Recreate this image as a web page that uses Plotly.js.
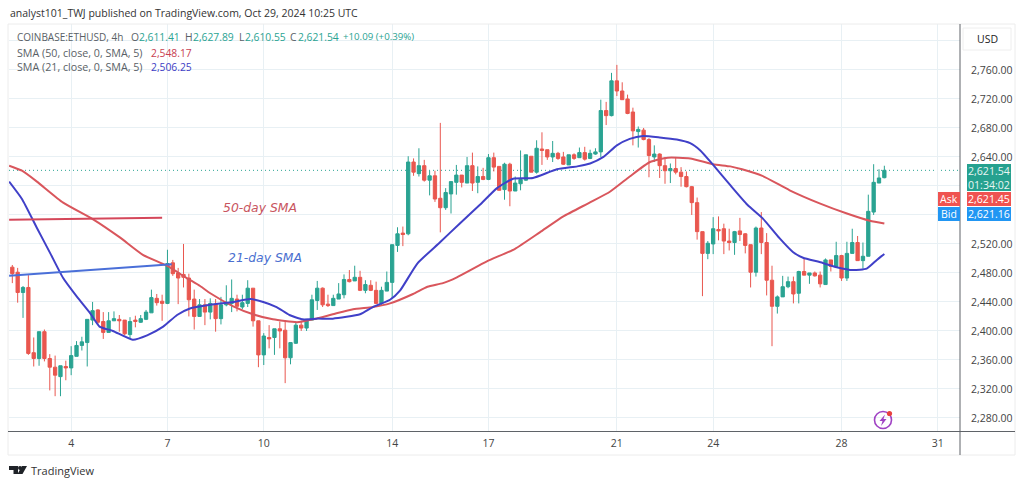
<!DOCTYPE html>
<html>
<head>
<meta charset="utf-8">
<script src="https://cdn.plot.ly/plotly-3.0.1.min.js"></script>
<style>html,body{margin:0;padding:0;background:#fff;overflow:hidden}#c{width:1024px;height:487px}</style>
</head>
<body>
<div id="c"></div>
<script>
const opens=[2488,2481,2453,2460,2370,2362,2399,2362,2350,2337,2351,2349,2365,2380,2384,2415,2429,2413,2398,2414,2416,2415,2395,2415,2412,2416,2425,2445,2441,2438,2494,2480,2478,2473,2444,2420,2436,2426,2437,2417,2436,2438,2444,2433,2438,2459,2414,2367,2391,2391,2403,2401,2363,2383,2408,2404,2415,2442,2459,2437,2435,2444,2450,2471,2469,2474,2456,2463,2456,2438,2455,2467,2518,2535,2534,2633,2617,2628,2608,2614,2583,2570,2589,2605,2615,2604,2628,2605,2613,2609,2639,2627,2595,2630,2593,2603,2608,2641,2619,2651,2650,2640,2645,2640,2629,2643,2639,2646,2638,2644,2647,2704,2697,2745,2731,2720,2702,2675,2677,2664,2640,2644,2628,2621,2624,2619,2613,2599,2577,2537,2507,2520,2540,2541,2524,2522,2538,2534,2519,2481,2542,2522,2470,2434,2447,2461,2468,2452,2482,2477,2480,2477,2464,2498,2489,2504,2473,2507,2522,2497,2503,2564,2604,2611.41];
const highs=[2491,2487,2462,2477,2391,2399,2402,2368,2366,2352,2359,2379,2386,2392,2416,2440,2430,2426,2426,2427,2422,2415,2419,2421,2422,2429,2457,2451,2450,2512,2498,2487,2520,2479,2457,2444,2444,2445,2444,2447,2463,2471,2450,2450,2470,2459,2414,2397,2408,2403,2413,2415,2384,2413,2413,2416,2450,2469,2460,2450,2450,2466,2478,2484,2490,2483,2470,2470,2468,2461,2482,2519,2543,2544,2641,2638,2652,2636,2621,2621,2687,2597,2606,2629,2615,2640,2646,2627,2625,2644,2646,2627,2632,2632,2613,2649,2643,2641,2663,2674,2650,2662,2647,2647,2643,2645,2653,2654,2650,2652,2719,2716,2756,2767,2743,2726,2708,2682,2680,2666,2656,2645,2640,2631,2640,2626,2620,2600,2584,2537,2524,2557,2558,2548,2541,2538,2556,2535,2519,2544,2564,2535,2490,2449,2476,2475,2475,2483,2500,2480,2482,2482,2500,2498,2523,2505,2523,2541,2531,2522,2588,2630,2623,2627.89];
const lows=[2466,2439,2418,2367,2351,2352,2358,2318,2310,2310,2332,2339,2365,2373,2351,2408,2408,2389,2398,2414,2399,2394,2390,2405,2411,2415,2425,2435,2414,2437,2476,2437,2460,2420,2402,2420,2408,2416,2399,2409,2434,2426,2427,2430,2433,2406,2350,2353,2376,2367,2376,2328,2354,2382,2400,2400,2415,2429,2433,2433,2435,2444,2445,2467,2469,2455,2452,2455,2437,2435,2455,2445,2509,2517,2532,2614,2613,2606,2587,2578,2536,2567,2562,2588,2598,2604,2593,2590,2608,2608,2620,2594,2581,2572,2593,2594,2607,2619,2617,2629,2636,2633,2636,2629,2629,2636,2639,2635,2637,2643,2640,2684,2696,2724,2719,2699,2656,2653,2663,2612,2633,2611,2603,2604,2616,2599,2598,2560,2526,2448,2499,2506,2525,2506,2511,2505,2524,2507,2460,2475,2506,2449,2379,2424,2447,2459,2438,2438,2477,2465,2475,2460,2464,2482,2489,2469,2469,2507,2497,2486,2503,2560,2604,2610.55];
const closes=[2479,2453,2460,2369,2362,2399,2362,2350,2339,2352,2349,2366,2380,2385,2416,2428,2412,2398,2414,2417,2414,2396,2413,2413,2417,2426,2446,2439,2438,2493,2479,2473,2474,2443,2420,2436,2426,2438,2417,2436,2438,2445,2434,2439,2459,2414,2367,2393,2389,2403,2400,2363,2384,2408,2404,2416,2443,2459,2436,2435,2445,2451,2471,2468,2474,2456,2464,2456,2438,2456,2467,2519,2534,2533,2633,2619,2628,2608,2614,2582,2570,2591,2606,2615,2605,2628,2604,2613,2609,2639,2626,2594,2630,2593,2604,2609,2643,2619,2652,2649,2640,2645,2638,2630,2643,2638,2646,2637,2645,2647,2704,2697,2745,2731,2719,2700,2676,2678,2664,2642,2644,2628,2621,2624,2619,2613,2599,2577,2537,2507,2521,2541,2538,2524,2522,2537,2533,2518,2481,2542,2522,2470,2434,2447,2461,2468,2451,2482,2477,2480,2476,2465,2498,2489,2504,2473,2507,2522,2497,2503,2565,2605,2611,2621.54];
const sma50Pos=[-0.6,1.8,4.6,9.5,15.1,20.1,24.4,28.9,32.6,35.1,37,41.3,45,48.7,53.2,56.2,59.9,63.7,67.4,70.6,74.9,77.6,80.5,83.1,88.7,93.9,98.6,103,107.9,111.7,115.4,119.2,122.5,126.7,131,134.2,136.4,140.2,145.3,150.9,156,160.3,163];
const sma50Val=[2628,2621,2606,2577,2554,2529,2505,2490,2473,2462,2452,2434,2423,2416,2412,2416,2423,2430,2433,2438,2451,2461,2466,2474,2496,2513,2536,2558,2577,2592,2613,2633,2639,2638,2630,2627,2623,2614,2594,2576,2562,2552,2548.17];
const sma21Pos=[-0.6,1.8,4.6,7.1,9.5,12.1,14.6,16.3,18.8,22.5,25.2,28.2,30.8,33.2,37,41.3,44.5,46.9,49.4,51.8,54.3,56.9,59.9,65,67.4,70.6,72.5,75.7,79.9,83.6,87.4,90.6,93.6,97.3,101.8,105.6,108,110.5,113,115.4,117.9,121,124.2,126.7,128.6,131,134.2,137.4,140.3,143.4,145.9,147.8,150.9,154.1,157.1,159.7,161.6,163];
const sma21Val=[2606,2582,2542,2507,2473,2447,2424,2406,2400,2388,2394,2406,2422,2431,2436,2440,2444,2440,2433,2422,2416,2417,2417,2423,2433,2443,2456,2493,2522,2548,2574,2597,2610,2611,2623,2627,2631,2640,2656,2665,2669,2667,2664,2659,2649,2629,2601,2574,2555,2528,2509,2501,2495,2488,2484,2486,2498,2506.25];
const noteLine50Pos=[-0.6,28],noteLine50Val=[2553.5,2556];
const noteLine21Pos=[-0.6,29.8],noteLine21Val=[2476,2492];
const dayTickPos=[11,29,47,71,89,113,131,155,173];
const dayTickText=['4','7','10','14','17','21','24','28','31'];
const priceTicks=[2280,2320,2360,2400,2440,2480,2520,2560,2600,2640,2680,2720,2760,2800];
const priceText=['2,280.00','2,320.00','2,360.00','2,400.00','2,440.00','2,480.00','2,520.00','','','2,640.00','2,680.00','2,720.00','2,760.00',''];
const barIndex=opens.map((_,i)=>i);
const lastClose=2621.54;

const W=951,H=407,L=9,T=24;
const fx=x=>(x-L)/W, fy=y=>1-(y-T)/H;
const rect=(x0,y0,x1,y1,fill,line)=>({type:'rect',xref:'paper',yref:'paper',layer:'above',x0:fx(x0),x1:fx(x1),y0:fy(y0),y1:fy(y1),fillcolor:fill||'rgba(0,0,0,0)',line:{color:line||'rgba(0,0,0,0)',width:line?1:0}});
const pathOf=pts=>pts.map((p,i)=>(i?'L':'M')+fx(p[0])+','+fy(p[1])).join(' ')+' Z';
const poly=(pts,fill)=>({type:'path',xref:'paper',yref:'paper',layer:'above',path:pathOf(pts),fillcolor:fill,line:{width:0}});
const circle=(cx,cy,r,fill,line,lw)=>({type:'circle',xref:'paper',yref:'paper',layer:'above',x0:fx(cx-r),x1:fx(cx+r),y0:fy(cy+r),y1:fy(cy-r),fillcolor:fill,line:{color:line||'rgba(0,0,0,0)',width:lw||0}});
const seg=(x0,y0,x1,y1,c,w)=>({type:'line',xref:'paper',yref:'paper',layer:'above',x0:fx(x0),x1:fx(x1),y0:fy(y0),y1:fy(y1),line:{color:c,width:w||1}});
const FONT='"Open Sans", sans-serif';
const txt=(x,y,t,size,color,anchor,extra)=>Object.assign({xref:'paper',yref:'paper',x:fx(x),y:fy(y),text:t,showarrow:false,xanchor:anchor||'left',yanchor:'middle',font:{family:FONT,size:size,color:color},borderpad:0},extra||{});

const GREEN='#2aa392',RED='#e9574f',GREY='#5a5f66';
const data=[
 {type:'candlestick',x:barIndex,open:opens,high:highs,low:lows,close:closes,whiskerwidth:0,
  increasing:{line:{color:GREEN,width:1},fillcolor:GREEN},decreasing:{line:{color:RED,width:1},fillcolor:RED},hoverinfo:'skip'},
 {type:'scatter',mode:'lines',x:sma50Pos,y:sma50Val,line:{color:'#d9565c',width:2,shape:'spline',smoothing:0.5},hoverinfo:'skip'},
 {type:'scatter',mode:'lines',x:sma21Pos,y:sma21Val,line:{color:'#4040c8',width:2,shape:'spline',smoothing:0.5},hoverinfo:'skip'},
 {type:'scatter',mode:'lines',x:noteLine50Pos,y:noteLine50Val,line:{color:'#d4475a',width:2},hoverinfo:'skip'},
 {type:'scatter',mode:'lines',x:noteLine21Pos,y:noteLine21Val,line:{color:'#4a6fd8',width:2},hoverinfo:'skip'}
];
const shapes=[
 {type:'line',xref:'paper',yref:'y',layer:'below',x0:0,x1:1,y0:lastClose,y1:lastClose,line:{color:'#2aa392',width:1,dash:'1px,3px'}},
 rect(8,24,1015,455,null,'#ececec'),
 seg(8,431.5,1015,431.5,'#5f6368',1),
 seg(960,24,960,455,'#5f6368',1),
 rect(963,28,1011,50,'#ffffff','#eeeeee'),
 rect(967,164,1011,191,'#26a18f'),
 rect(967,192,1011,206,'#ef5350'),
 rect(938,192,960,206,'#ef5350'),
 rect(967,207,1011,221,'#2196f3'),
 rect(938,207,960,221,'#2196f3'),
 circle(883,420,8.5,'rgba(0,0,0,0)','#a043c4',1.6),
 circle(889.5,413.5,2.6,'#e8413f'),
 poly([[885,414.5],[879.5,421],[882.5,421],[881,426],[886.5,419],[883.5,419]],'#a043c4'),
 poly([[9,466],[18,466],[18,474],[13.5,474],[13.5,470],[9,470]],'#1f2328'),
 circle(20,468,2,'#1f2328'),
 poly([[22,466],[27,466],[22.5,474],[17.5,474]],'#1f2328')
];
const annotations=[
 txt(9,13,'analyst101_TWJ published on TradingView.com, Oct 29, 2024 10:25 UTC',10.5,'#333333'),
 txt(16,37,'COINBASE:ETHUSD, 4h',10,GREY),
 txt(130,37,'O',10.3,GREY),txt(138,37,'2,611.41',10.3,GREEN),
 txt(184,37,'H',10.3,GREY),txt(192,37,'2,627.89',10.3,GREEN),
 txt(238,37,'L',10.3,GREY),txt(244,37,'2,610.55',10.3,GREEN),
 txt(289,37,'C',10.3,GREY),txt(297,37,'2,621.54',10.3,GREEN),
 txt(342,37,'+10.09 (+0.39%)',9.7,GREEN),
 txt(16,52.5,'SMA (50, close, 0, SMA, 5)',10.7,GREY),txt(150,52.5,'2,548.17',10.3,'#c8404f'),
 txt(16,67.5,'SMA (21, close, 0, SMA, 5)',10.7,GREY),txt(150,67.5,'2,506.25',10.3,'#3d3dc4'),
 txt(222,208,'50-day SMA',12.5,'#c85560',null,{font:{family:'"DejaVu Sans", sans-serif',size:12.4,color:'#c85560',style:'italic'}}),
 txt(227,257,'21-day SMA',12.5,'#4a6fd0',null,{font:{family:'"DejaVu Sans", sans-serif',size:12.4,color:'#4a6fd0',style:'italic'}}),
 txt(987,39,'USD',10.5,'#222222','center'),
 txt(988.5,177.5,'2,621.54<br>01:34:02',10.6,'#e8f6f3','center'),
 txt(988.5,199,'2,621.45',10.6,'#ffffff','center'),
 txt(949,199,'Ask',10.5,'#ffffff','center'),
 txt(988.5,214,'2,621.16',10.6,'#ffffff','center'),
 txt(949,214,'Bid',10.5,'#ffffff','center'),
 txt(30,471,'TradingView',11,'#333333')
];
const layout={
 width:1024,height:487,margin:{l:9,r:64,t:24,b:56,pad:0},paper_bgcolor:'#fff',plot_bgcolor:'#fff',
 showlegend:false,hovermode:false,dragmode:false,boxgap:0.12,
 xaxis:{type:'linear',range:[-0.62,177.14],rangeslider:{visible:false},tickmode:'array',tickvals:dayTickPos,ticktext:dayTickText,
  tickfont:{family:FONT,size:10.5,color:'#444'},ticks:'outside',ticklen:2,tickcolor:'rgba(0,0,0,0)',gridcolor:'#e8f0f4',gridwidth:1,zeroline:false,showline:false},
 yaxis:{type:'linear',side:'right',range:[2262,2823.4],tickmode:'array',tickvals:priceTicks,ticktext:priceText,
  tickfont:{family:FONT,size:10.5,color:'#444'},ticks:'outside',ticklen:8,tickcolor:'rgba(0,0,0,0)',gridcolor:'#e8f0f4',gridwidth:1,zeroline:false,showline:false},
 shapes:shapes,annotations:annotations
};
Plotly.newPlot('c',data,layout,{displayModeBar:false,staticPlot:true});
</script>
</body>
</html>
